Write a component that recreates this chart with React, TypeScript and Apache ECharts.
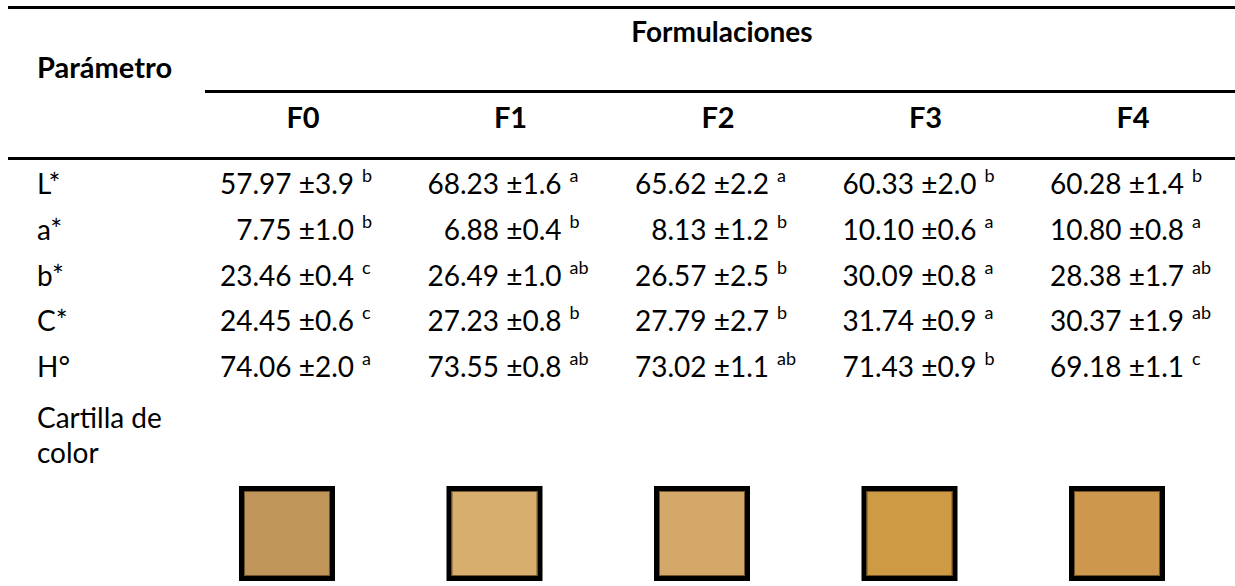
import React, { useEffect, useRef } from "react";
import * as echarts from "echarts";

// Table contents
const headerParam = "Parámetro";
const headerGroup = "Formulaciones";
const formulations = ["F0", "F1", "F2", "F3", "F4"];
const parameters = ["L*", "a*", "b*", "C*", "H°"];
const swatchLabel = ["Cartilla de", "color"];

const meanL = [57.97, 68.23, 65.62, 60.33, 60.28];
const sdL = [3.9, 1.6, 2.2, 2.0, 1.4];
const letL = ["b", "a", "a", "b", "b"];

const meanA = [7.75, 6.88, 8.13, 10.1, 10.8];
const sdA = [1.0, 0.4, 1.2, 0.6, 0.8];
const letA = ["b", "b", "b", "a", "a"];

const meanB = [23.46, 26.49, 26.57, 30.09, 28.38];
const sdB = [0.4, 1.0, 2.5, 0.8, 1.7];
const letB = ["c", "ab", "b", "a", "ab"];

const meanC = [24.45, 27.23, 27.79, 31.74, 30.37];
const sdC = [0.6, 0.8, 2.7, 0.9, 1.9];
const letC = ["c", "b", "b", "a", "ab"];

const meanH = [74.06, 73.55, 73.02, 71.43, 69.18];
const sdH = [2.0, 0.8, 1.1, 0.9, 1.1];
const letH = ["a", "ab", "ab", "b", "c"];

const swatchColors = ["#C0955A", "#D8AE6E", "#D4A868", "#CE9A43", "#CD984D"];

const rows = [
  { means: meanL, sds: sdL, letters: letL },
  { means: meanA, sds: sdA, letters: letA },
  { means: meanB, sds: sdB, letters: letB },
  { means: meanC, sds: sdC, letters: letC },
  { means: meanH, sds: sdH, letters: letH },
];

// Layout
const W = 1235;
const H = 586;
const FONT = "Lato, 'Open Sans', sans-serif";
const SIZE = 28;
const colCenter = (i: number) => 303 + i * 207.5;
const rowY = (r: number) => 183 + r * 45.8;

function buildGraphics() {
  const g: any[] = [];
  const hline = (x1: number, x2: number, y: number) =>
    g.push({
      type: "line",
      shape: { x1, y1: y, x2, y2: y },
      style: { stroke: "#000", lineWidth: 3 },
    });
  hline(8, W, 7.5);
  hline(205, W, 91.5);
  hline(8, W, 158.5);

  const text = (
    t: string,
    x: number,
    y: number,
    opts: { align?: string; bold?: boolean; size?: number } = {}
  ) =>
    g.push({
      type: "text",
      x,
      y,
      style: {
        text: t,
        fill: "#000",
        fontFamily: FONT,
        fontSize: opts.size ?? SIZE,
        fontWeight: opts.bold ? "bold" : "normal",
        align: opts.align ?? "left",
        verticalAlign: "middle",
      },
    });

  text(headerParam, 37, 66, { bold: true, size: 29 });
  text(headerGroup, 722, 31, { bold: true, align: "center", size: 28 });
  formulations.forEach((f, i) => text(f, colCenter(i), 116, { bold: true, align: "center", size: 29 }));

  parameters.forEach((p, r) => {
    const y = rowY(r);
    text(p, 37, y);
    const row = rows[r];
    row.means.forEach((m, i) => {
      const right = colCenter(i) + 51;
      text(`${m.toFixed(2)} ±${row.sds[i].toFixed(1)}`, right, y, { align: "right" });
      text(row.letters[i], right + 8, y - 8, { size: 18 });
    });
  });

  text(swatchLabel[0], 37, 417);
  text(swatchLabel[1], 37, 452);

  swatchColors.forEach((c, i) => {
    const cx = colCenter(i) - 16;
    const w = 96;
    const h = 95;
    g.push({
      type: "rect",
      shape: { x: cx - w / 2 + 2.5, y: 486 + 2.5, width: w - 5, height: h - 5 },
      style: { fill: c, stroke: "#000", lineWidth: 5 },
    });
    g.push({
      type: "rect",
      shape: { x: cx - w / 2 + 5.5, y: 486 + 5.5, width: w - 11, height: h - 11 },
      style: { fill: "none", stroke: "rgba(90,65,30,0.8)", lineWidth: 1 },
    });
  });
  return g;
}

export default function App() {
  const ref = useRef<HTMLDivElement>(null);
  useEffect(() => {
    document.body.style.margin = "0";
    const chart = echarts.init(ref.current!, undefined, { renderer: "svg" });
    chart.setOption({
      animation: false,
      backgroundColor: "#fff",
      graphic: buildGraphics(),
    });
    return () => chart.dispose();
  }, []);
  return <div ref={ref} style={{ width: W, height: H }} />;
}
